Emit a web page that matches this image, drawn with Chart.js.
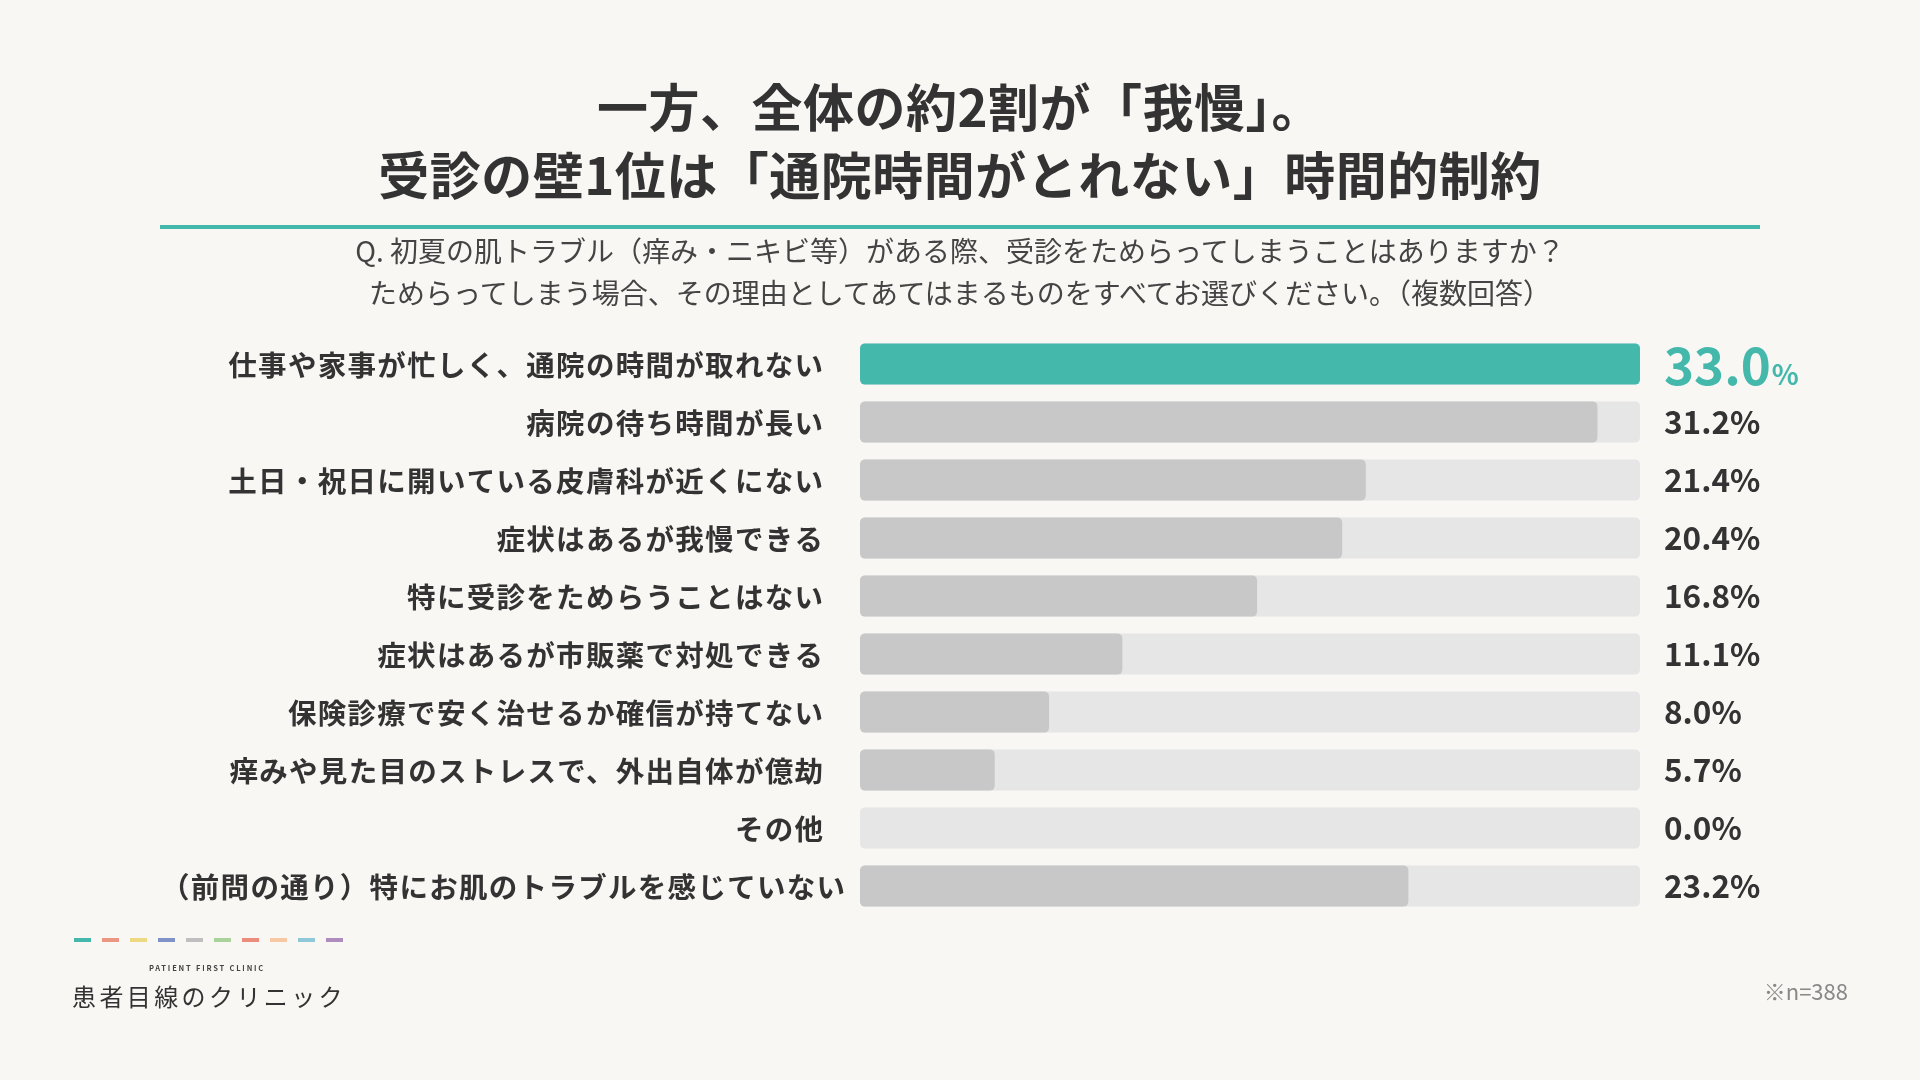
<!DOCTYPE html>
<html>
<head>
    <meta charset="utf-8">
    <title>受診の壁 アンケート結果</title>
    <script src="https://cdn.jsdelivr.net/npm/chart.js"></script>
    <style>
        body { margin: 0; background: #f9f7f4; font-family: "Noto Sans CJK JP", "Noto Sans", sans-serif; color: #333; }
        #page { position: relative; width: 1920px; height: 1080px; overflow: hidden; }
        #chart { position: absolute; left: 0; top: 0; }
        .title { position: absolute; left: 0; width: 1920px; top: 71px; text-align: center; font-size: 51px; font-weight: 700; line-height: 68px; letter-spacing: 0.5px; color: #333; }
        .rule { position: absolute; left: 160px; top: 225px; width: 1600px; height: 4px; background: #45b8ac; }
        .question { position: absolute; left: 0; width: 1920px; top: 229px; text-align: center; font-size: 28px; font-weight: 400; line-height: 42px; color: #444; }
        .dashes { position: absolute; left: 74px; top: 938px; }
        .dashes span { position: absolute; top: 0; width: 17px; height: 4px; }
        .brand-en { position: absolute; left: 0; width: 414px; top: 963px; text-align: center; font-size: 7.5px; font-weight: 700; letter-spacing: 1.8px; line-height: 10px; color: #444; }
        .brand { position: absolute; left: 72px; top: 981px; font-size: 24px; font-weight: 400; letter-spacing: 3.4px; line-height: 30px; color: #333; }
        .note { position: absolute; right: 72px; top: 976px; font-size: 22px; line-height: 28px; color: #888; }
    </style>
</head>
<body>
<div id="page">
    <canvas id="chart" width="1920" height="1080"></canvas>
    <div class="title">一方、全体の約2割が「我慢」。<br>受診の壁1位は「通院時間がとれない」時間的制約</div>
    <div class="rule"></div>
    <div class="question">Q. 初夏の肌トラブル（痒み・ニキビ等）がある際、受診をためらってしまうことはありますか？<br>ためらってしまう場合、その理由としてあてはまるものをすべてお選びください。（複数回答）</div>
    <div class="dashes" id="dashes"></div>
    <div class="brand-en">PATIENT FIRST CLINIC</div>
    <div class="brand">患者目線のクリニック</div>
    <div class="note">※n=388</div>
</div>

<script>
    // answers, top to bottom
    const categories = [
        '仕事や家事が忙しく、通院の時間が取れない',
        '病院の待ち時間が長い',
        '土日・祝日に開いている皮膚科が近くにない',
        '症状はあるが我慢できる',
        '特に受診をためらうことはない',
        '症状はあるが市販薬で対処できる',
        '保険診療で安く治せるか確信が持てない',
        '痒みや見た目のストレスで、外出自体が億劫',
        'その他',
        '（前問の通り）特にお肌のトラブルを感じていない'
    ];
    const values = [33.0, 31.2, 21.4, 20.4, 16.8, 11.1, 8.0, 5.7, 0.0, 23.2];
    const trackMax = 33.0;
    const highlightIndex = 0;

    const dashColors = ['#45b8ac', '#ea9680', '#ecd980', '#7f93c9', '#bfbfbf',
                        '#a9d39b', '#ea8d7b', '#f6c9a3', '#8fc8d7', '#ae8dbe'];

    const TEAL = '#45b8ac';
    const GREY = '#c8c8c8';
    const TRACK = '#e6e6e6';
    const FONT = '"Noto Sans CJK JP", "Noto Sans", sans-serif';

    // little coloured dashes above the clinic name
    const dashBox = document.getElementById('dashes');
    dashColors.forEach((c, i) => {
        const s = document.createElement('span');
        s.style.left = (i * 28) + 'px';
        s.style.background = c;
        dashBox.appendChild(s);
    });

    // category names on the left, percentages on the right
    const rowText = {
        id: 'rowText',
        afterDatasetsDraw(chart) {
            const { ctx, scales: { x, y } } = chart;
            const boxRight = x.left - 37;
            const boxLeft = 161;
            ctx.save();
            categories.forEach((cat, i) => {
                const cy = y.getPixelForValue(i);

                ctx.textBaseline = 'middle';
                ctx.textAlign = 'left';
                ctx.font = '700 28.5px ' + FONT;
                ctx.letterSpacing = '1.3px';
                ctx.fillStyle = '#333';
                const w = ctx.measureText(cat).width - 1.3;
                // long label overflows its box to the right, like the original layout
                const lx = Math.max(boxLeft, boxRight - w);
                ctx.fillText(cat, lx, cy + 1);

                ctx.letterSpacing = '0px';
                ctx.textBaseline = 'alphabetic';
                const vx = x.getPixelForValue(trackMax) + 24;
                const num = values[i].toFixed(1);
                if (i === highlightIndex) {
                    ctx.fillStyle = TEAL;
                    ctx.font = '700 51px ' + FONT;
                    ctx.fillText(num, vx, cy + 21);
                    const nw = ctx.measureText(num).width;
                    ctx.font = '700 28px ' + FONT;
                    ctx.fillText('%', vx + nw + 1, cy + 21);
                } else {
                    ctx.fillStyle = '#333';
                    ctx.font = '700 31.5px ' + FONT;
                    ctx.fillText(num + '%', vx, cy + 12);
                }
            });
            ctx.restore();
        }
    };

    const ctx = document.getElementById('chart').getContext('2d');
    new Chart(ctx, {
        type: 'bar',
        data: {
            labels: categories,
            datasets: [
                {
                    label: '回答率',
                    data: values,
                    backgroundColor: categories.map((c, i) => i === highlightIndex ? TEAL : GREY),
                    borderRadius: 5,
                    borderSkipped: false,
                    grouped: false,
                    barPercentage: 0.71,
                    categoryPercentage: 1,
                    order: 1
                },
                {
                    label: 'track',
                    data: categories.map(() => trackMax),
                    backgroundColor: TRACK,
                    borderRadius: 5,
                    borderSkipped: false,
                    grouped: false,
                    barPercentage: 0.71,
                    categoryPercentage: 1,
                    order: 2
                }
            ]
        },
        options: {
            indexAxis: 'y',
            responsive: false,
            animation: false,
            devicePixelRatio: 1,
            events: [],
            layout: { padding: { left: 860, right: 280, top: 335, bottom: 165 } },
            scales: {
                x: { min: 0, max: trackMax, display: false },
                y: { display: false }
            },
            plugins: {
                legend: { display: false },
                tooltip: { enabled: false }
            }
        },
        plugins: [rowText]
    });
</script>
</body>
</html>
